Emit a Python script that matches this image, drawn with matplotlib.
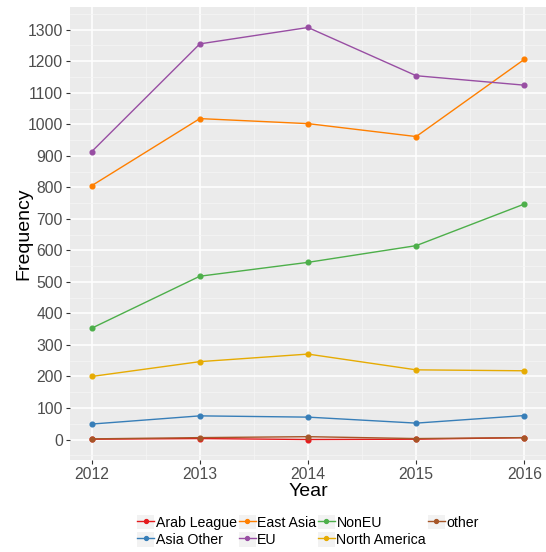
import matplotlib
matplotlib.use("Agg")
import matplotlib.pyplot as plt
from matplotlib.ticker import MultipleLocator
from matplotlib.patches import Patch
from matplotlib.lines import Line2D
from matplotlib.legend_handler import HandlerTuple

plt.rcParams["font.family"] = ["Liberation Sans", "DejaVu Sans"]

# data
years = [2012, 2013, 2014, 2015, 2016]
arab_league = [1, 3, 0, 1, 6]
asia_other = [49, 75, 71, 52, 76]
east_asia = [805, 1018, 1002, 961, 1206]
eu = [913, 1255, 1307, 1154, 1124]
non_eu = [353, 518, 562, 615, 747]
north_america = [200, 247, 271, 221, 218]
other = [2, 6, 9, 3, 6]

series = [
    ("Arab League", arab_league, "#E41A1C"),
    ("Asia Other", asia_other, "#377EB8"),
    ("East Asia", east_asia, "#FF7F00"),
    ("EU", eu, "#984EA3"),
    ("NonEU", non_eu, "#4DAF4A"),
    ("North America", north_america, "#E6AB02"),
    ("other", other, "#A65628"),
]

fig = plt.figure(figsize=(5.46, 5.52), dpi=100)
ax = fig.add_axes([70 / 546, 1 - 460 / 552, 476 / 546, 453 / 552])

ax.set_facecolor("#EBEBEB")
for s in ax.spines.values():
    s.set_visible(False)

ax.xaxis.set_major_locator(MultipleLocator(1))
ax.xaxis.set_minor_locator(MultipleLocator(0.5))
ax.yaxis.set_major_locator(MultipleLocator(100))
ax.yaxis.set_minor_locator(MultipleLocator(50))
ax.grid(which="major", color="white", linewidth=1.1)
ax.grid(which="minor", color="#F5F5F5", linewidth=0.55)
ax.set_axisbelow(True)

for name, vals, col in series:
    ax.plot(years, vals, color=col, lw=1.0, marker="o", ms=3.4)

ax.set_xlim(2011.8, 2016.2)
ax.set_ylim(-65, 1372)
ax.tick_params(which="major", length=3, color="#333333", labelsize=11.3,
               labelcolor="#4D4D4D", pad=2)
ax.tick_params(which="minor", length=0)

ax.set_xlabel("Year", fontsize=14, labelpad=1)
ax.set_ylabel("Frequency", fontsize=14)
ax.yaxis.set_label_coords(-0.078, 0.5)

# legend keys: grey box with line + point, like ggplot
handles = []
labels = []
for name, vals, col in series:
    box = Patch(facecolor="#F2F2F2", edgecolor="none")
    key = Line2D([], [], color=col, lw=1.0, marker="o", ms=2.8)
    handles.append((box, key))
    labels.append(name)

fig.legend(handles, labels, loc="center",
           bbox_to_anchor=(308 / 546, 1 - 531 / 552),
           handler_map={tuple: HandlerTuple(ndivide=1, pad=0)},
           ncol=4, frameon=False, fontsize=10.2, handlelength=1.2,
           handleheight=1.2, handletextpad=0.12, columnspacing=0.1,
           labelspacing=0.2, borderaxespad=0)

plt.savefig("out.png", dpi=100)
